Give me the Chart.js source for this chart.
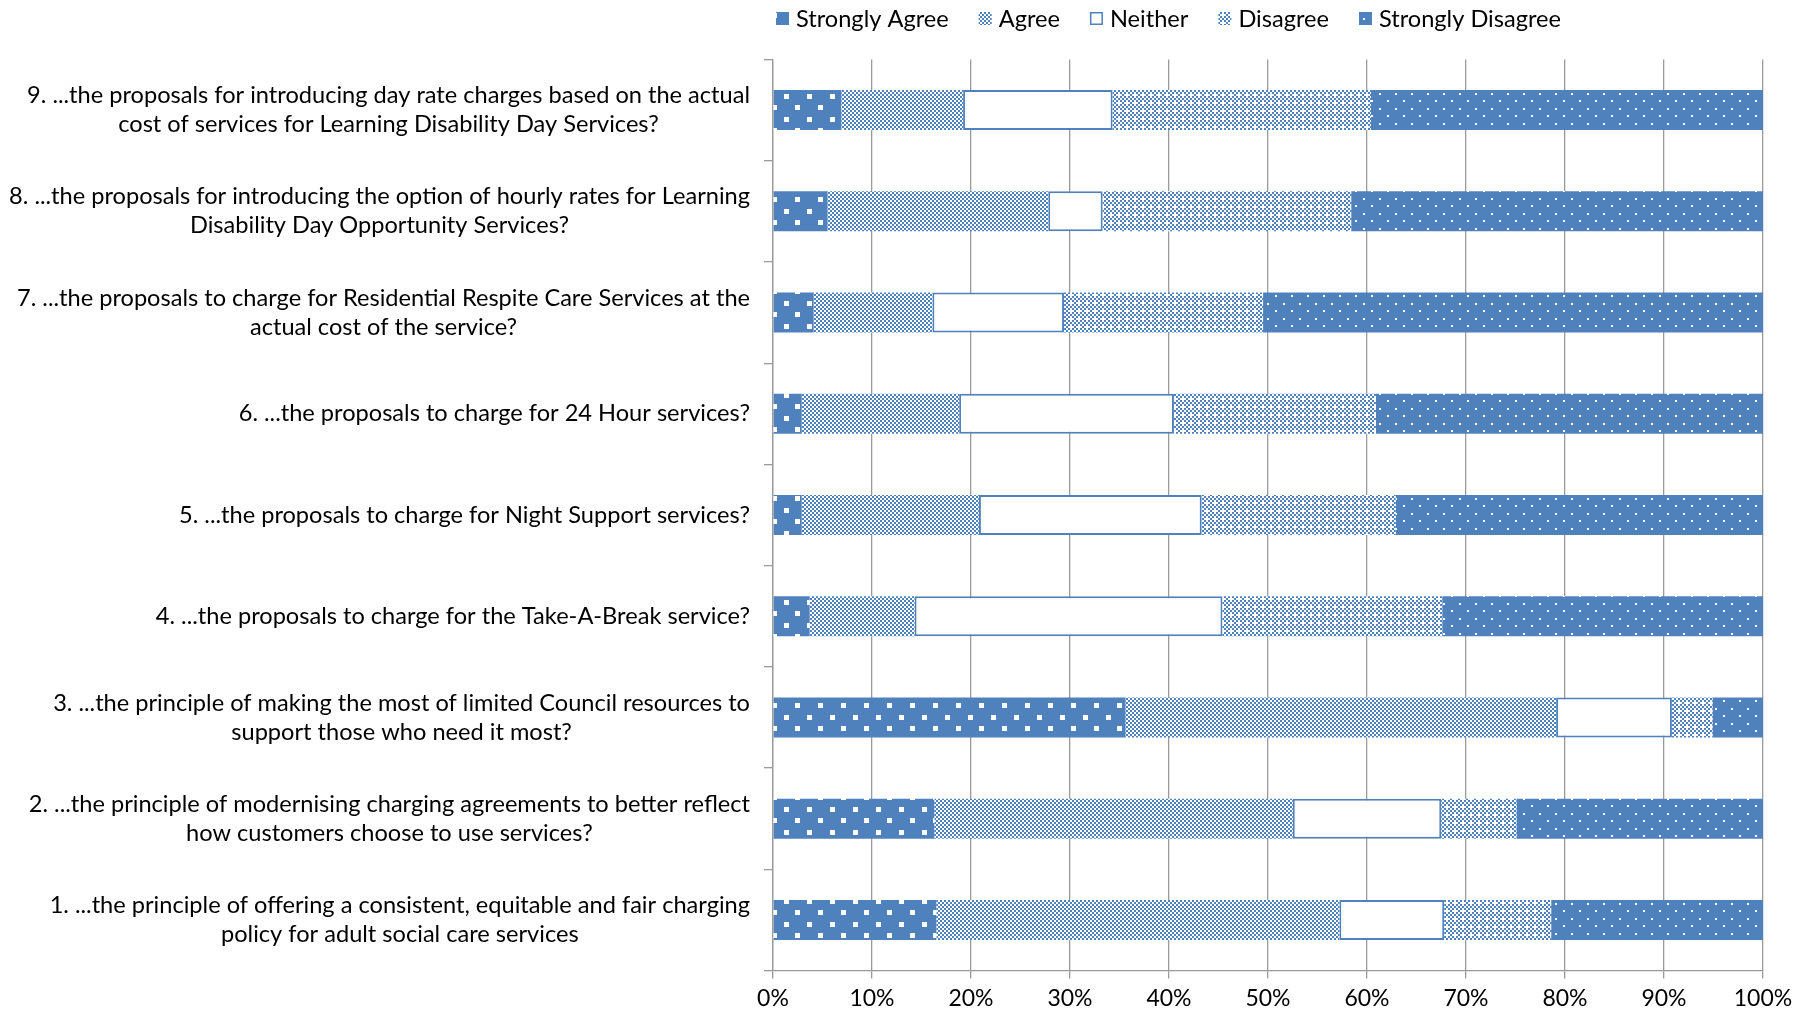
<!DOCTYPE html>
<html>
<head>
<meta charset="utf-8">
<title>Charging proposals survey</title>
<script src="https://cdn.jsdelivr.net/npm/chart.js@4.4.1/dist/chart.umd.min.js"></script>
<style>
  html, body { margin: 0; padding: 0; background: #ffffff; overflow: hidden; }
  #wrap { width: 1815px; height: 1016px; position: relative; }
</style>
</head>
<body>
<div id="wrap"><canvas id="c" width="1815" height="1016"></canvas></div>
<script>
// Questions, listed top to bottom
const questions = [
  ['9. ...the proposals for introducing day rate charges based on the actual', 'cost of services for Learning Disability Day Services?'],
  ['8. ...the proposals for introducing the option of hourly rates for Learning', 'Disability Day Opportunity Services?'],
  ['7. ...the proposals to charge for Residential Respite Care Services at the', 'actual cost of the service?'],
  ['6. ...the proposals to charge for 24 Hour services?'],
  ['5. ...the proposals to charge for Night Support services?'],
  ['4. ...the proposals to charge for the Take-A-Break service?'],
  ['3. ...the principle of making the most of limited Council resources to', 'support those who need it most?'],
  ['2. ...the principle of modernising charging agreements to better reflect', 'how customers choose to use services?'],
  ['1. ...the principle of offering a consistent, equitable and fair charging', 'policy for adult social care services']
];

// Share of responses (%) per question, same order as above
const stronglyAgree    = [6.9, 5.5, 4.1, 2.9, 2.9, 3.7, 35.6, 16.3, 16.5];
const agree            = [12.3, 22.3, 12.0, 15.9, 17.9, 10.6, 43.5, 36.2, 40.7];
const neither          = [15.1, 5.5, 13.3, 21.7, 22.5, 31.1, 11.7, 15.0, 10.6];
const disagree         = [26.1, 25.1, 20.1, 20.4, 19.6, 22.2, 4.1, 7.6, 10.8];
const stronglyDisagree = [39.6, 41.6, 50.5, 39.1, 37.1, 32.4, 5.1, 24.9, 21.4];

const seriesNames = ['Strongly Agree', 'Agree', 'Neither', 'Disagree', 'Strongly Disagree'];
const percentTicks = ['0%', '10%', '20%', '30%', '40%', '50%', '60%', '70%', '80%', '90%', '100%'];

const BLUE = '#4F81BD';
const GRID = '#9a9a9a';
const FONT = 'Lato, "Open Sans", sans-serif';
const TEXT_SIZE = 23.6;

function makePattern(w, h, draw) {
  const tile = document.createElement('canvas');
  tile.width = w; tile.height = h;
  const g = tile.getContext('2d');
  draw(g);
  return g.createPattern(tile, 'repeat');
}

// Blue with large white squares
const patStronglyAgree = makePattern(23, 23, g => {
  g.fillStyle = BLUE; g.fillRect(0, 0, 23, 23);
  g.fillStyle = '#ffffff';
  g.fillRect(2, 2, 5, 5);
  g.fillRect(13, 13, 5, 5);
});
// Fine checkerboard
const patAgree = makePattern(4, 4, g => {
  g.fillStyle = '#ffffff'; g.fillRect(0, 0, 4, 4);
  g.fillStyle = BLUE;
  g.fillRect(0, 0, 2, 2);
  g.fillRect(2, 2, 2, 2);
});
// Checker broken by a light row every fourth cell
const patDisagree = makePattern(8, 8, g => {
  g.fillStyle = '#ffffff'; g.fillRect(0, 0, 8, 8);
  g.fillStyle = BLUE;
  [[0, 0], [4, 0], [2, 2], [6, 2], [0, 4], [4, 4], [2, 6]].forEach(([x, y]) => g.fillRect(x, y, 2, 2));
});
// Blue with small white dots
const patStronglyDisagree = makePattern(16, 15, g => {
  g.fillStyle = BLUE; g.fillRect(0, 0, 16, 15);
  g.fillStyle = '#ffffff';
  g.fillRect(3, 3, 2, 2);
  g.fillRect(11, 10, 2, 2);
});

const fills = [patStronglyAgree, patAgree, '#ffffff', patDisagree, patStronglyDisagree];
const seriesValues = [stronglyAgree, agree, neither, disagree, stronglyDisagree];

const datasets = seriesNames.map((name, i) => ({
  label: name,
  data: seriesValues[i],
  backgroundColor: fills[i],
  borderColor: BLUE,
  borderWidth: i === 2 ? 2 : 0,
  borderSkipped: false,
  barPercentage: 0.395,
  categoryPercentage: 1.0
}));

// Question text: each block right-aligned to the axis, lines centred within the block
const questionLabels = {
  id: 'questionLabels',
  afterDraw(chart) {
    const { ctx, scales: { y } } = chart;
    ctx.save();
    ctx.font = TEXT_SIZE + 'px ' + FONT;
    ctx.fillStyle = '#000000';
    ctx.textAlign = 'center';
    ctx.textBaseline = 'middle';
    const right = y.right - 23;
    const lineHeight = 29;
    questions.forEach((lines, i) => {
      const cy = y.getPixelForTick(i);
      const w = Math.max(...lines.map(l => ctx.measureText(l).width));
      const cx = right - w / 2;
      lines.forEach((l, j) => ctx.fillText(l, cx, cy + (j - (lines.length - 1) / 2) * lineHeight));
    });
    ctx.restore();
  }
};

// Legend row above the plot
const legendRow = {
  id: 'legendRow',
  afterDraw(chart) {
    const { ctx } = chart;
    ctx.save();
    ctx.font = TEXT_SIZE + 'px ' + FONT;
    ctx.textBaseline = 'middle';
    ctx.textAlign = 'left';
    let x = 776;
    const cy = 18.5;
    const box = 13;
    chart.data.datasets.forEach(ds => {
      ctx.fillStyle = ds.backgroundColor;
      ctx.fillRect(x, cy - box / 2, box, box);
      if (ds.borderWidth) {
        ctx.strokeStyle = BLUE; ctx.lineWidth = 1.5;
        ctx.strokeRect(x + 0.75, cy - box / 2 + 0.75, box - 1.5, box - 1.5);
      }
      x += box + 7;
      ctx.fillStyle = '#000000';
      ctx.fillText(ds.label, x, cy + 1);
      x += ctx.measureText(ds.label).width + 30;
    });
    ctx.restore();
  }
};

function draw() {
  new Chart(document.getElementById('c'), {
    type: 'bar',
    data: { labels: questions, datasets },
    options: {
      indexAxis: 'y',
      responsive: false,
      animation: false,
      layout: { padding: { top: 59.5, right: 52, left: 0, bottom: 0 } },
      plugins: { legend: { display: false }, tooltip: { enabled: false } },
      scales: {
        x: {
          stacked: true,
          min: 0,
          max: 100,
          ticks: {
            stepSize: 10,
            autoSkip: false,
            maxRotation: 0,
            padding: 6,
            color: '#000000',
            font: { family: FONT, size: 23 },
            callback: (v, i) => percentTicks[i]
          },
          grid: { color: GRID, lineWidth: 1.3, tickLength: 8 },
          border: { color: GRID, width: 1.3 },
          afterFit: s => { s.height = 45.5; }
        },
        y: {
          stacked: true,
          ticks: { display: false },
          grid: { drawOnChartArea: false, color: GRID, lineWidth: 1.3, tickLength: 9, offset: true },
          border: { color: GRID, width: 1.3 },
          afterFit: s => { s.width = 773; }
        }
      }
    },
    plugins: [questionLabels, legendRow]
  });
}

if (document.fonts && document.fonts.load) {
  document.fonts.load(TEXT_SIZE + 'px Lato').then(draw, draw);
} else {
  draw();
}
</script>
</body>
</html>
